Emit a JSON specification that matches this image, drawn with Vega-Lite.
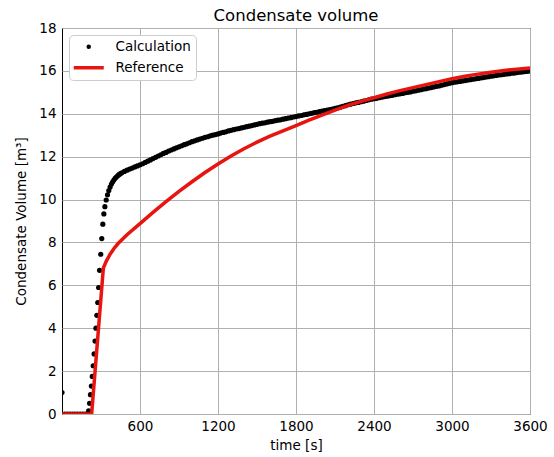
{
  "$schema": "https://vega.github.io/schema/vega-lite/v6.json",
  "width": 468,
  "height": 386,
  "autosize": {"type": "none"},
  "padding": {"left": 62, "top": 28, "right": 24, "bottom": 43},
  "background": "white",
  "title": {"text": "Condensate volume", "fontSize": 16.5, "fontWeight": "normal", "font": "DejaVu Sans", "color": "black", "offset": -3},
  "config": {
    "font": "DejaVu Sans",
    "view": {"stroke": "black", "strokeWidth": 1},
    "axis": {
      "domain": false,
      "ticks": false,
      "labelFlush": false,
      "labelOverlap": false,
      "labelFont": "DejaVu Sans",
      "titleFont": "DejaVu Sans",
      "labelFontSize": 13.5,
      "titleFontSize": 13.5,
      "titleFontWeight": "normal",
      "labelColor": "black",
      "titleColor": "black",
      "gridColor": "#b0b0b0",
      "gridWidth": 1,
      "gridOpacity": 1
    }
  },
  "datasets": {
    "calc": [
      {"t":0,"v":1.0},{"t":20,"v":0},{"t":40,"v":0},{"t":60,"v":0},{"t":80,"v":0},{"t":100,"v":0},{"t":120,"v":0},{"t":140,"v":0},{"t":160,"v":0},{"t":180,"v":0},{"t":200,"v":0},
      {"t":205,"v":0.15},{"t":212,"v":0.5},{"t":219,"v":0.9},{"t":226,"v":1.3},{"t":233,"v":1.75},{"t":240,"v":2.25},{"t":247,"v":2.8},{"t":254,"v":3.4},{"t":261,"v":4.0},{"t":268,"v":4.6},{"t":275,"v":5.2},{"t":282,"v":5.9},{"t":289,"v":6.7},
      {"t":298,"v":7.45},{"t":306,"v":8.18},{"t":314,"v":8.85},{"t":322,"v":9.33},{"t":330,"v":9.67},{"t":340,"v":9.98},{"t":350,"v":10.22},{"t":360,"v":10.42},{"t":370,"v":10.58},{"t":380,"v":10.72},{"t":390,"v":10.83},{"t":400,"v":10.92},{"t":410,"v":11.0},{"t":420,"v":11.06},{"t":430,"v":11.12},{"t":440,"v":11.17},{"t":450,"v":11.21},{"t":460,"v":11.25},
      {"t":480,"v":11.31},{"t":500,"v":11.37},{"t":520,"v":11.42},{"t":540,"v":11.47},{"t":560,"v":11.52},{"t":580,"v":11.57},{"t":600,"v":11.62},{"t":620,"v":11.67},{"t":640,"v":11.73},{"t":660,"v":11.79},{"t":680,"v":11.85},{"t":700,"v":11.91},
      {"t":720,"v":11.97},{"t":740,"v":12.03},{"t":760,"v":12.09},{"t":780,"v":12.15},{"t":800,"v":12.2},{"t":820,"v":12.26},{"t":840,"v":12.31},{"t":860,"v":12.36},{"t":880,"v":12.41},{"t":900,"v":12.46},
      {"t":920,"v":12.51},{"t":940,"v":12.56},{"t":960,"v":12.6},{"t":980,"v":12.65},{"t":1000,"v":12.7},{"t":1020,"v":12.74},{"t":1040,"v":12.78},{"t":1060,"v":12.82},{"t":1080,"v":12.86},{"t":1100,"v":12.9},
      {"t":1120,"v":12.93},{"t":1140,"v":12.97},{"t":1160,"v":13.0},{"t":1180,"v":13.03},{"t":1200,"v":13.06},{"t":1220,"v":13.1},{"t":1240,"v":13.13},{"t":1260,"v":13.16},{"t":1280,"v":13.2},{"t":1300,"v":13.23},
      {"t":1320,"v":13.26},{"t":1340,"v":13.29},{"t":1360,"v":13.31},{"t":1380,"v":13.34},{"t":1400,"v":13.37},{"t":1420,"v":13.4},{"t":1440,"v":13.42},{"t":1460,"v":13.45},{"t":1480,"v":13.48},{"t":1500,"v":13.51},
      {"t":1520,"v":13.54},{"t":1540,"v":13.56},{"t":1560,"v":13.58},{"t":1580,"v":13.61},{"t":1600,"v":13.63},{"t":1620,"v":13.65},{"t":1640,"v":13.68},{"t":1660,"v":13.7},{"t":1680,"v":13.72},{"t":1700,"v":13.75},
      {"t":1720,"v":13.77},{"t":1740,"v":13.8},{"t":1760,"v":13.82},{"t":1780,"v":13.85},{"t":1800,"v":13.87},{"t":1820,"v":13.9},{"t":1840,"v":13.92},{"t":1860,"v":13.95},{"t":1880,"v":13.97},{"t":1900,"v":14.0},
      {"t":1920,"v":14.02},{"t":1940,"v":14.05},{"t":1960,"v":14.07},{"t":1980,"v":14.1},{"t":2000,"v":14.12},{"t":2020,"v":14.15},{"t":2040,"v":14.17},{"t":2060,"v":14.2},{"t":2080,"v":14.22},{"t":2100,"v":14.25},
      {"t":2120,"v":14.28},{"t":2140,"v":14.31},{"t":2160,"v":14.35},{"t":2180,"v":14.38},{"t":2200,"v":14.42},{"t":2220,"v":14.45},{"t":2240,"v":14.48},{"t":2260,"v":14.51},{"t":2280,"v":14.53},{"t":2300,"v":14.56},
      {"t":2320,"v":14.59},{"t":2340,"v":14.62},{"t":2360,"v":14.65},{"t":2380,"v":14.68},{"t":2400,"v":14.7},{"t":2420,"v":14.72},{"t":2440,"v":14.75},{"t":2460,"v":14.77},{"t":2480,"v":14.8},{"t":2500,"v":14.82},
      {"t":2520,"v":14.84},{"t":2540,"v":14.86},{"t":2560,"v":14.89},{"t":2580,"v":14.91},{"t":2600,"v":14.93},{"t":2620,"v":14.95},{"t":2640,"v":14.98},{"t":2660,"v":15.0},{"t":2680,"v":15.02},{"t":2700,"v":15.05},
      {"t":2720,"v":15.07},{"t":2740,"v":15.1},{"t":2760,"v":15.12},{"t":2780,"v":15.15},{"t":2800,"v":15.17},{"t":2820,"v":15.2},{"t":2840,"v":15.22},{"t":2860,"v":15.25},{"t":2880,"v":15.28},{"t":2900,"v":15.3},
      {"t":2920,"v":15.33},{"t":2940,"v":15.36},{"t":2960,"v":15.39},{"t":2980,"v":15.42},{"t":3000,"v":15.45},{"t":3020,"v":15.47},{"t":3040,"v":15.49},{"t":3060,"v":15.51},{"t":3080,"v":15.53},{"t":3100,"v":15.55},
      {"t":3120,"v":15.57},{"t":3140,"v":15.59},{"t":3160,"v":15.61},{"t":3180,"v":15.63},{"t":3200,"v":15.65},{"t":3220,"v":15.67},{"t":3240,"v":15.69},{"t":3260,"v":15.71},{"t":3280,"v":15.73},{"t":3300,"v":15.75},
      {"t":3320,"v":15.77},{"t":3340,"v":15.79},{"t":3360,"v":15.81},{"t":3380,"v":15.82},{"t":3400,"v":15.84},{"t":3420,"v":15.86},{"t":3440,"v":15.87},{"t":3460,"v":15.89},{"t":3480,"v":15.9},{"t":3500,"v":15.92},
      {"t":3520,"v":15.94},{"t":3540,"v":15.95},{"t":3560,"v":15.97},{"t":3580,"v":15.98},{"t":3600,"v":16.0}
    ],
    "ref": [
      {"t":0,"v":0},{"t":228,"v":0},{"t":318,"v":6.8},{"t":340,"v":7.12},{"t":370,"v":7.45},{"t":400,"v":7.72},{"t":433,"v":7.96},{"t":500,"v":8.36},{"t":600,"v":8.88},{"t":700,"v":9.4},
      {"t":800,"v":9.9},{"t":900,"v":10.38},{"t":1000,"v":10.83},{"t":1100,"v":11.26},{"t":1200,"v":11.66},{"t":1300,"v":12.03},{"t":1400,"v":12.37},{"t":1500,"v":12.68},{"t":1600,"v":12.96},{"t":1700,"v":13.2},
      {"t":1800,"v":13.45},{"t":1900,"v":13.7},{"t":2000,"v":13.94},{"t":2100,"v":14.17},{"t":2200,"v":14.39},{"t":2300,"v":14.58},{"t":2400,"v":14.75},{"t":2500,"v":14.92},{"t":2600,"v":15.08},{"t":2700,"v":15.22},{"t":2800,"v":15.36},
      {"t":2900,"v":15.5},{"t":3000,"v":15.63},{"t":3100,"v":15.75},{"t":3200,"v":15.85},{"t":3300,"v":15.94},{"t":3400,"v":16.02},{"t":3500,"v":16.08},{"t":3600,"v":16.13}
    ]
  },
  "layer": [
    {
      "data": {"name": "calc"},
      "mark": {"type": "point", "filled": true, "size": 27, "opacity": 1, "clip": true},
      "encoding": {
        "x": {"field": "t", "type": "quantitative", "scale": {"domain": [0, 3600], "nice": false},
          "axis": {"title": "time [s]", "values": [600, 1200, 1800, 2400, 3000, 3600], "format": "d", "labelPadding": 5, "titlePadding": 6}},
        "y": {"field": "v", "type": "quantitative", "scale": {"domain": [0, 18], "nice": false},
          "axis": {"title": "Condensate Volume [m³]", "values": [0, 2, 4, 6, 8, 10, 12, 14, 16, 18], "format": "d", "labelPadding": 6, "titlePadding": 10}},
        "color": {"datum": "Calculation", "type": "nominal",
          "scale": {"domain": ["Calculation", "Reference"], "range": ["black", "#e8140f"]},
          "legend": {
            "title": null, "orient": "top-left", "offset": 7, "padding": 5,
            "fillColor": "white", "strokeColor": "#cccccc", "cornerRadius": 4,
            "labelFontSize": 13.5, "labelColor": "black", "labelFont": "DejaVu Sans",
            "symbolSize": 100, "symbolStrokeWidth": 0, "symbolOffset": 8, "labelOffset": 20, "rowPadding": 6,
            "encode": {"symbols": {"update": {
              "shape": {"signal": "datum.value === 'Reference' ? 'stroke' : 'circle'"},
              "size": {"signal": "datum.value === 'Reference' ? 900 : 20"},
              "fill": {"signal": "datum.value === 'Reference' ? 'transparent' : 'black'"},
              "stroke": {"signal": "datum.value === 'Reference' ? '#e8140f' : 'transparent'"},
              "strokeWidth": {"signal": "datum.value === 'Reference' ? 3.5 : 0"}
            }}}
          }}
      }
    },
    {
      "data": {"name": "ref"},
      "mark": {"type": "line", "strokeWidth": 3.5, "clip": true},
      "encoding": {
        "x": {"field": "t", "type": "quantitative"},
        "y": {"field": "v", "type": "quantitative"},
        "color": {"datum": "Reference", "type": "nominal",
          "legend": {
            "title": null, "orient": "top-left", "offset": 7, "padding": 5,
            "fillColor": "white", "strokeColor": "#cccccc", "cornerRadius": 4,
            "labelFontSize": 13.5, "labelColor": "black", "labelFont": "DejaVu Sans",
            "symbolSize": 100, "symbolStrokeWidth": 0, "symbolOffset": 8, "labelOffset": 20, "rowPadding": 6,
            "encode": {"symbols": {"update": {
              "shape": {"signal": "datum.value === 'Reference' ? 'stroke' : 'circle'"},
              "size": {"signal": "datum.value === 'Reference' ? 900 : 20"},
              "fill": {"signal": "datum.value === 'Reference' ? 'transparent' : 'black'"},
              "stroke": {"signal": "datum.value === 'Reference' ? '#e8140f' : 'transparent'"},
              "strokeWidth": {"signal": "datum.value === 'Reference' ? 3.5 : 0"}
            }}}
          }}
      }
    }
  ]
}
